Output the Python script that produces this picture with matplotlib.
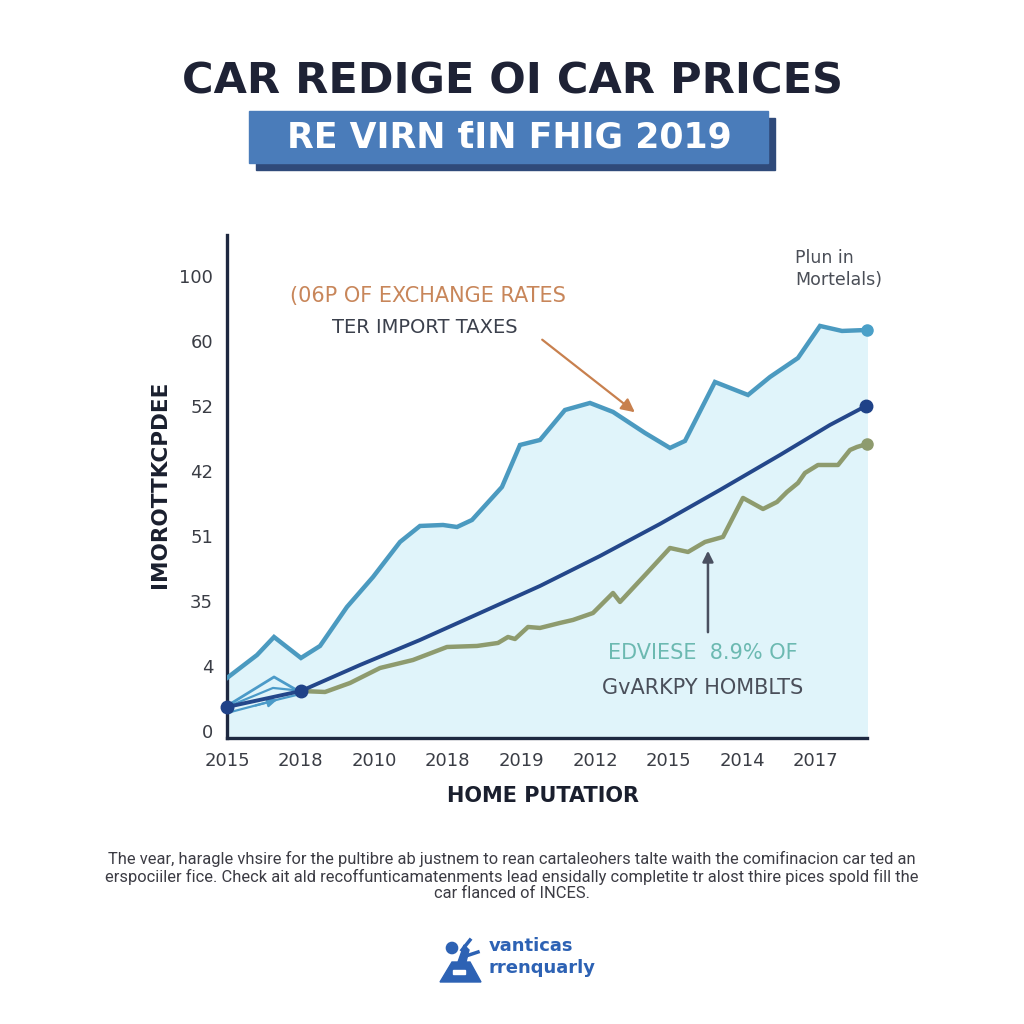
import matplotlib.pyplot as plt
from matplotlib.patches import Rectangle, Polygon, Circle

plt.rcParams['font.family'] = ['DejaVu Sans']

# ==== data (x in tick slots, y in tick slots) ====
x_labels = ['2015', '2018', '2010', '2018', '2019', '2012', '2015', '2014', '2017']
y_labels = ['0', '4', '35', '51', '42', '52', '60', '100']

# upper band line (light blue)
top_x = [0, 0.408, 0.639, 1.005, 1.264, 1.630, 1.984, 2.351, 2.622, 2.935, 3.125, 3.329,
         3.736, 3.981, 4.253, 4.592, 4.932, 5.245, 5.679, 6.019, 6.223, 6.630, 7.079,
         7.378, 7.758, 8.057, 8.356, 8.696]
top_y = [0.815, 1.169, 1.446, 1.123, 1.308, 1.908, 2.369, 2.908, 3.154, 3.169, 3.138, 3.246,
         3.754, 4.400, 4.477, 4.938, 5.046, 4.908, 4.585, 4.354, 4.462, 5.369, 5.169,
         5.446, 5.738, 6.231, 6.154, 6.169]

# trend line (navy)
trend_x = [0, 1.005, 1.807, 2.622, 3.438, 4.253, 5.068, 5.883, 6.698, 7.514, 8.193, 8.682]
trend_y = [0.369, 0.615, 1.015, 1.400, 1.815, 2.231, 2.692, 3.185, 3.708, 4.246, 4.708, 5.000]

# lower line (olive)
low_x = [1.005, 1.332, 1.671, 2.079, 2.527, 2.989, 3.397, 3.682, 3.818, 3.913, 4.090, 4.253,
         4.524, 4.701, 4.973, 5.245, 5.340, 5.707, 6.019, 6.264, 6.495, 6.739, 7.011,
         7.283, 7.473, 7.609, 7.758, 7.853, 8.030, 8.302, 8.465, 8.560, 8.696]
low_y = [0.615, 0.600, 0.738, 0.969, 1.092, 1.292, 1.308, 1.354, 1.446, 1.415, 1.600, 1.585,
         1.662, 1.708, 1.815, 2.123, 1.985, 2.431, 2.815, 2.754, 2.908, 2.985, 3.585,
         3.415, 3.523, 3.677, 3.815, 3.969, 4.092, 4.092, 4.323, 4.369, 4.415]

# little early strokes near the start
early_a_x = [0, 0.639, 0.992]
early_a_y = [0.385, 0.831, 0.600]
early_b_x = [0, 0.625, 0.897]
early_b_y = [0.369, 0.662, 0.631]
early_c_x = [0, 0.720, 1.005]
early_c_y = [0.277, 0.492, 0.570]

footnote = ("The vear, haragle vhsire for the pultibre ab justnem to rean cartaleohers talte waith the comifinacion car ted an\n"
            "erspociiler fice. Check ait ald recoffunticamatenments lead ensidally completite tr alost thire pices spold fill the\n"
            "car flanced of INCES.")

# ==== figure ====
fig = plt.figure(figsize=(10.24, 10.24), dpi=100)
W = H = 1024.0


def fx(px):
    return px / W


def fy(py):
    return 1 - py / H


# title + subtitle banner
fig.text(0.5, fy(81), 'CAR REDIGE OI CAR PRICES', ha='center', va='center',
         fontsize=31, fontweight='bold', color='#1e2235')
fig.patches.append(Rectangle((fx(256), fy(170)), fx(775) - fx(256), fy(118) - fy(170),
                             transform=fig.transFigure, color='#2f4a7a', zorder=0))
fig.patches.append(Rectangle((fx(249), fy(163)), fx(768) - fx(249), fy(111) - fy(163),
                             transform=fig.transFigure, color='#4a7cba', zorder=1))
fig.text(fx(509), fy(137), 'RE VIRN ƭIN FHIG 2019', ha='center', va='center',
         fontsize=25, fontweight='bold', color='white', zorder=2)

# main axes
ax = fig.add_axes([fx(227), fy(738), fx(867) - fx(227), fy(235) - fy(738)])
ax.set_xlim(0, 8.696)
ax.set_ylim(-0.108, 7.63)

ax.fill_between(top_x, top_y, -0.108, color='#e0f4fa', zorder=1)
ax.plot(top_x, top_y, color='#4b9ac0', lw=3.2, zorder=3, solid_joinstyle='miter')
ax.plot(top_x[-1], top_y[-1], 'o', color='#4aa0c8', ms=8, zorder=5, clip_on=False)

ax.plot(early_a_x, early_a_y, color='#4b9ac8', lw=2, zorder=3)
ax.plot(early_b_x, early_b_y, color='#4b9ac8', lw=1.6, zorder=3)
ax.plot(early_c_x, early_c_y, color='#4b9ac8', lw=1.6, zorder=3)
ax.annotate('', xy=(early_c_x[1], early_c_y[1]), xytext=(0.35, 0.38),
            arrowprops=dict(arrowstyle='-|>', color='#4b9ac8', lw=1.6, mutation_scale=14), zorder=3)

ax.plot(low_x, low_y, color='#8e9b6e', lw=3.2, zorder=3)
ax.plot(low_x[-1], low_y[-1], 'o', color='#8e9b6e', ms=8, zorder=5, clip_on=False)

ax.plot(trend_x, trend_y, color='#24478a', lw=2.8, zorder=4)
ax.plot([trend_x[0], trend_x[1], trend_x[-1]], [trend_y[0], trend_y[1], trend_y[-1]], 'o',
        color='#1f4288', ms=9, zorder=6, clip_on=False)

# annotations
ax.text(2.731, 6.692, '(06P OF EXCHANGE RATES', ha='center', va='center', fontsize=15, color='#c8865a')
ax.text(2.690, 6.200, 'TER IMPORT TAXES', ha='center', va='center', fontsize=14, color='#3b404c')
ax.annotate('', xy=(5.571, 4.877), xytext=(4.253, 6.046),
            arrowprops=dict(arrowstyle='-|>', color='#c8804e', lw=1.6, mutation_scale=20))
ax.text(7.717, 7.277, 'Plun in', ha='left', va='center', fontsize=12.5, color='#4a4e57')
ax.text(7.717, 6.938, 'Mortelals)', ha='left', va='center', fontsize=12.5, color='#4a4e57')
ax.text(6.467, 1.200, 'EDVIESE  8.9% OF', ha='center', va='center', fontsize=15, color='#6cb9b1')
ax.text(6.467, 0.662, 'GvARKPY HOMBLTS', ha='center', va='center', fontsize=15, color='#4a4f5a')
ax.annotate('', xy=(6.535, 2.815), xytext=(6.535, 1.477),
            arrowprops=dict(arrowstyle='-|>', color='#4a5060', lw=1.8, mutation_scale=16))

# axes styling
ax.set_xticks(range(len(x_labels)))
ax.set_xticklabels(x_labels)
ax.set_yticks(range(len(y_labels)))
ax.set_yticklabels(y_labels)
ax.tick_params(length=0, labelsize=13, colors='#3a3d45', pad=10)
for s in ['top', 'right']:
    ax.spines[s].set_visible(False)
for s in ['left', 'bottom']:
    ax.spines[s].set_color('#1e2840')
    ax.spines[s].set_linewidth(2.4)
ax.set_facecolor('white')

fig.text(fx(160), fy(484), 'IMOROTTKCPDEE', rotation=90, ha='center', va='center',
         fontsize=15.5, fontweight='bold', color='#1a1f2e')
fig.text(fx(543), fy(796), 'HOME PUTATIOR', ha='center', va='center',
         fontsize=15, fontweight='bold', color='#1a1f2e')

# footnote
fig.text(0.5, fy(876), footnote, ha='center', va='center', fontsize=11.9,
         family='Roboto', color='#3c3c44', linespacing=1.15)

# logo
logo_blue = '#2d62b4'
fig.patches.append(Polygon([(fx(440), fy(982)), (fx(481), fy(982)), (fx(470), fy(962)), (fx(452), fy(962))],
                           closed=True, transform=fig.transFigure, color=logo_blue))
fig.patches.append(Rectangle((fx(453), fy(974)), fx(12) - fx(0), fy(970) - fy(974),
                             transform=fig.transFigure, color='white'))
fig.patches.append(Circle((fx(452), fy(948)), 0.0055, transform=fig.transFigure, color=logo_blue))
fig.patches.append(Polygon([(fx(458), fy(962)), (fx(464), fy(945)), (fx(469), fy(950)), (fx(466), fy(962))],
                           closed=True, transform=fig.transFigure, color=logo_blue))
fig.lines.append(plt.Line2D([fx(462), fx(470)], [fy(950), fy(940)], transform=fig.transFigure,
                            color=logo_blue, lw=2.5))
fig.lines.append(plt.Line2D([fx(466), fx(478)], [fy(956), fy(952)], transform=fig.transFigure,
                            color=logo_blue, lw=2.5))
fig.text(fx(489), fy(946), 'vanticas', ha='left', va='center', fontsize=13,
         fontweight='bold', color=logo_blue)
fig.text(fx(489), fy(968), 'rrenquarly', ha='left', va='center', fontsize=13,
         fontweight='bold', color=logo_blue)

fig.savefig('out.png', dpi=100, facecolor='white')
